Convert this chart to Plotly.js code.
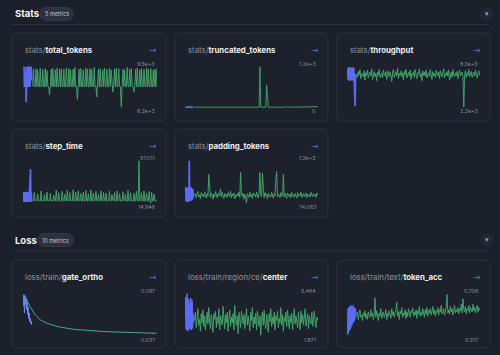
<!DOCTYPE html>
<html><head><meta charset="utf-8">
<script src="https://cdn.plot.ly/plotly-3.0.1.min.js"></script>
<style>html,body{margin:0;padding:0;background:#1b1f29;overflow:hidden}#chart{width:500px;height:355px}</style>
</head><body><div id="chart"></div>
<script>
// ---------- DATA ----------
const sectionTitles = ['Stats', 'Loss'];
const sectionBadges = ['5 metrics', '10 metrics'];
const chartPrefixes = ['stats/', 'stats/', 'stats/', 'stats/', 'stats/', 'loss/train/', 'loss/train/region/ce/', 'loss/train/text/'];
const chartNames = ['total_tokens', 'truncated_tokens', 'throughput', 'step_time', 'padding_tokens', 'gate_ortho', 'center', 'token_acc'];
const maxLabels = ['9.5e+3', '1.2e+3', '8.3e+3', '57.011', '1.3e+3', '0.097', '5.464', '0.706'];
const minLabels = ['6.2e+3', '0', '2.2e+3', '14.946', '74.063', '0.037', '1.871', '0.317'];
const yMax = [9500, 1200, 8300, 57.011, 1300, 0.097, 5.464, 0.706];
const yMin = [6200, 0, 2200, 14.946, 74.063, 0.037, 1.871, 0.317];

// first logged step and step spacing of each run
const blueStart = [0, 0, 0, 0, 0, 0, 0, 0];
const blueStep = [0.27, 0.27, 0.27, 0.27, 0.27, 0.4, 0.27, 0.27];
const greenStart = [7, 7, 7, 7, 7, 1, 7, 7];
const greenStep = [0.64, 0.64, 0.64, 0.64, 0.64, 4, 0.64, 0.64];

const totalTokensBlue = [9450, 7900, 9500, 7850, 9480, 7900, 9450, 7950, 6600, 7900, 9500, 7850, 9450, 7900, 9500, 7850, 9480, 7900, 9450, 7880, 9500, 7900, 9420, 8400];
const totalTokensGreen = [
  7900, 9300, 7880, 7850, 9350, 7900, 9250, 7860, 7900, 9400, 7850, 7880, 9300, 7900, 7850, 9350, 7880, 9200, 7900, 7860,
  7200, 7900, 9300, 7850, 9350, 7900, 7880, 9250, 7850, 9400, 7900, 7870, 9300, 7850, 9350, 7900, 7860, 9300, 7880, 7850,
  9400, 7900, 7860, 9350, 7880, 9250, 7900, 7850, 9300, 7880, 9450, 7860, 7900, 6850, 7880, 9300, 7850, 9350, 7900, 7880,
  9250, 7850, 7900, 9400, 7880, 9300, 7850, 7900, 9350, 7860, 9300, 7900, 7880, 9450, 7850, 7900, 7050, 7880, 9300, 7850,
  9350, 7900, 7860, 9250, 7880, 9400, 7850, 7900, 9300, 7880, 7860, 9350, 7900, 9250, 7850, 7450, 7900, 9300, 7860, 9400,
  7880, 7850, 9350, 7900, 7880, 6200, 7860, 9300, 7900, 9250, 7850, 7880, 9450, 7900, 7860, 9300, 7850, 9350, 7900, 7880,
  7450, 7900, 9300, 7860, 9400, 7880, 7850, 9250, 7900, 9350, 7860, 7880, 9300, 7900, 7850, 9400, 7880, 9300, 7850, 7900,
  9350, 7880, 7860, 9250, 7900, 9300, 7850, 9350];

const truncatedBlue = [0, 0, 0, 0, 0, 0, 0, 0, 0, 0, 0, 0, 0, 0, 0, 0, 0, 0, 0, 0, 0, 0, 0, 0];
const truncatedGreen = [
  0, 0, 0, 0, 0, 0, 0, 0, 0, 0, 0, 0, 0, 0, 0, 0, 0, 0, 0, 0,
  0, 0, 0, 0, 0, 0, 0, 0, 0, 0, 0, 0, 0, 0, 0, 0, 0, 0, 0, 0,
  0, 0, 0, 0, 0, 0, 0, 0, 0, 0, 0, 0, 0, 0, 0, 0, 0, 0, 0, 0,
  0, 0, 0, 0, 0, 0, 0, 0, 0, 0, 0, 0, 0, 0, 0, 0, 0, 0, 1200, 0,
  0, 0, 0, 0, 0, 0, 650, 90, 0, 0, 0, 0, 0, 0, 0, 0, 0, 0, 0, 0,
  0, 0, 0, 0, 0, 0, 0, 0, 0, 0, 0, 25, 0, 0, 0, 0, 0, 0, 0, 0,
  0, 0, 0, 0, 0, 0, 0, 0, 0, 0, 0, 0, 0, 0, 0, 0, 0, 0, 0, 0,
  0, 0, 0, 0, 0, 0, 0, 15];

const throughputBlue = [7900, 6500, 8200, 6300, 8100, 6400, 8250, 6300, 8150, 6350, 8200, 6400, 8100, 6300, 8200, 6350, 8150, 6400, 8200, 6300, 8150, 6400, 2400, 7200];
const throughputGreen = [
  7200, 6700, 7600, 7000, 7900, 6500, 7300, 7100, 6800, 7700, 6300, 7400, 7000, 7800, 6600, 7200, 7500, 6900, 8000, 6400,
  7100, 7600, 6800, 7300, 6200, 7500, 7000, 7900, 6700, 7200, 7400, 6600, 7800, 7100, 6900, 7600, 6400, 7300, 7700, 6800,
  7500, 7000, 6100, 7400, 7900, 6700, 7200, 7600, 6900, 8100, 6500, 7300, 7000, 7700, 6800, 7400, 6300, 7600, 7100, 7900,
  6600, 7200, 7500, 6900, 7800, 6400, 7300, 7000, 7600, 6700, 7900, 7100, 6500, 7400, 7200, 8000, 6800, 7300, 6200, 7700,
  7000, 7500, 6900, 7800, 6600, 7200, 7400, 6800, 7900, 7100, 6400, 7600, 7000, 7300, 6700, 7800, 7200, 6900, 7500, 6500,
  7700, 7100, 6800, 7400, 8000, 6600, 7300, 7000, 7600, 6900, 7800, 6300, 7200, 7500, 6700, 7900, 7100, 6800, 7400, 7000,
  7600, 6500, 7300, 7800, 6900, 7200, 7500, 6800, 2200, 7100, 7700, 6600, 7400, 7000, 7900, 6800, 7300, 7600, 6700, 7200,
  7500, 6900, 7800, 7100, 6600, 7400, 7700, 7000];

const stepTimeBlue = [17, 26, 16, 25.5, 16.5, 26, 15.8, 25, 16.2, 26.3, 16, 25.8, 16.5, 26, 16, 25.5, 16.2, 26, 16.8, 25, 48.6, 16, 25.5, 17];
const stepTimeGreen = [
  17.4, 17.0, 25.6, 17.3, 16.9, 17.5, 24.2, 17.1, 17.6, 16.8, 27.0, 17.2, 17.4, 17.0, 23.5, 17.3, 16.9, 26.1, 17.5, 17.1,
  17.3, 24.8, 17.0, 16.8, 17.6, 22.9, 17.2, 17.4, 28.0, 17.1, 16.9, 25.2, 17.5, 17.0, 17.3, 26.7, 17.2, 16.8, 24.0, 17.4,
  17.1, 27.8, 17.3, 16.9, 25.5, 17.6, 17.0, 17.2, 28.3, 17.4, 16.8, 26.0, 17.1, 17.5, 27.2, 17.0, 17.3, 24.6, 16.9, 17.4,
  25.9, 17.2, 17.0, 27.6, 17.5, 16.8, 24.3, 17.3, 17.1, 28.1, 17.0, 17.4, 25.1, 16.9, 17.6, 26.5, 17.2, 17.0, 23.8, 17.3,
  17.5, 27.3, 17.1, 16.9, 25.7, 17.4, 17.0, 24.9, 17.2, 16.8, 17.5, 26.9, 17.3, 17.0, 23.4, 17.6, 17.1, 25.6, 16.9, 17.3,
  27.0, 17.2, 17.4, 24.5, 17.0, 16.8, 17.3, 26.3, 17.5, 17.1, 24.0, 17.0, 16.9, 27.6, 17.4, 17.2, 25.3, 17.0, 17.6, 16.8,
  24.7, 17.3, 17.1, 26.8, 17.4, 16.9, 57.011, 17.2, 17.5, 25.2, 17.0, 17.3, 27.1, 16.8, 17.4, 24.6, 17.2, 17.0, 26.4, 17.3,
  14.946, 25.9, 17.1, 17.4, 24.1, 17.0, 17.5, 17.2];

const paddingBlue = [300, 550, 150, 500, 120, 520, 140, 480, 130, 530, 150, 1300, 140, 500, 180, 540, 140, 510, 170, 450, 200, 480, 250, 330];
const paddingGreen = [
  290, 360, 230, 340, 410, 260, 310, 200, 380, 280, 330, 250, 400, 300, 220, 350, 270, 910, 310, 240,
  370, 290, 190, 340, 260, 410, 300, 230, 360, 280, 320, 490, 250, 390, 300, 210, 350, 270, 330, 240,
  380, 300, 260, 420, 220, 340, 290, 370, 200, 310, 260, 350, 280, 400, 240, 965, 320, 270, 360, 190,
  330, 280, 74.063, 350, 300, 240, 390, 260, 320, 210, 370, 290, 330, 250, 400, 280, 220, 360, 965, 300,
  260, 940, 310, 230, 380, 290, 340, 200, 360, 270, 310, 250, 390, 300, 220, 350, 280, 770, 990, 260,
  340, 300, 230, 380, 270, 320, 910, 250, 360, 290, 210, 370, 300, 260, 340, 230, 390, 280, 310, 250,
  360, 300, 220, 380, 270, 330, 290, 400, 240, 310, 350, 260, 300, 370, 230, 340, 280, 320, 250, 390,
  300, 260, 350, 280, 320, 240, 370, 310];

const gateOrthoBlue = [0.080, 0.096, 0.070, 0.094, 0.082, 0.090, 0.075, 0.085, 0.068, 0.078, 0.062, 0.070, 0.058, 0.062, 0.055, 0.058, 0.053];
const gateOrthoGreen = [0.095, 0.079, 0.067, 0.060, 0.056, 0.053, 0.051, 0.0495, 0.048, 0.047, 0.0462, 0.0455, 0.0449, 0.0444, 0.044, 0.0436,
  0.0432, 0.0429, 0.0426, 0.0423, 0.042, 0.0418, 0.0416, 0.0414, 0.0412, 0.041];

const centerBlue = [3.5, 5.2, 2.6, 4.8, 2.4, 5.464, 2.8, 4.5, 2.3, 5.0, 2.6, 4.2, 2.5, 4.6, 2.9, 5.1, 2.4, 4.4, 2.7, 4.9, 2.5, 3.8, 3.0, 3.6];
const centerGreen = [
  3.2, 3.9, 2.6, 3.5, 4.2, 2.8, 3.3, 2.3, 3.8, 3.0, 4.1, 2.7, 3.6, 2.4, 3.4, 3.9, 2.9, 4.3, 3.1, 2.5,
  3.7, 3.0, 2.2, 3.8, 3.3, 4.0, 2.6, 3.5, 2.9, 4.2, 2.4, 3.6, 3.1, 2.8, 4.4, 3.2, 2.5, 3.7, 3.0, 3.9,
  2.3, 3.4, 4.1, 2.7, 3.5, 3.0, 3.8, 2.4, 4.48, 3.2, 2.8, 3.6, 2.1, 3.9, 3.3, 2.6, 4.0, 3.1, 2.9, 3.7,
  2.5, 3.4, 4.2, 2.8, 3.6, 3.0, 2.3, 3.9, 3.2, 4.3, 2.6, 3.5, 2.9, 3.8, 2.4, 4.0, 3.1, 2.7, 3.6, 1.95,
  3.4, 3.9, 2.8, 4.1, 3.0, 2.5, 3.7, 3.3, 2.2, 3.8, 3.1, 4.2, 2.7, 3.5, 2.9, 3.9, 2.4, 3.6, 3.2, 4.0,
  2.6, 3.4, 3.0, 4.3, 2.8, 3.7, 2.3, 3.5, 3.1, 3.9, 2.7, 4.1, 3.3, 2.5, 3.6, 3.0, 3.8, 2.4, 3.4, 4.2,
  2.9, 3.6, 3.1, 2.6, 3.9, 3.3, 2.4, 4.0, 3.0, 3.7, 2.8, 3.5, 4.2, 2.7, 3.2, 3.8, 2.5, 3.6, 3.1, 2.9,
  3.9, 2.7, 3.4, 4.0, 3.0, 2.6, 3.5, 3.2];

const tokenAccBlue = [0.45, 0.33, 0.57, 0.35, 0.58, 0.37, 0.59, 0.38, 0.58, 0.40, 0.60, 0.41, 0.59, 0.43, 0.58, 0.44, 0.60, 0.45, 0.59, 0.46, 0.58, 0.47, 0.57, 0.52];
const tokenAccGreen = [
  0.50, 0.54, 0.47, 0.52, 0.56, 0.49, 0.51, 0.46, 0.53, 0.50, 0.55, 0.48, 0.52, 0.47, 0.54, 0.51, 0.49, 0.56, 0.50, 0.53,
  0.47, 0.52, 0.67, 0.49, 0.55, 0.51, 0.46, 0.53, 0.50, 0.57, 0.48, 0.52, 0.54, 0.49, 0.51, 0.56, 0.47, 0.53, 0.50, 0.55,
  0.52, 0.48, 0.57, 0.51, 0.54, 0.49, 0.53, 0.56, 0.63, 0.50, 0.54, 0.47, 0.55, 0.52, 0.58, 0.49, 0.53, 0.51, 0.56, 0.48,
  0.54, 0.50, 0.57, 0.52, 0.49, 0.55, 0.53, 0.58, 0.50, 0.54, 0.51, 0.56, 0.48, 0.55, 0.52, 0.59, 0.50, 0.54, 0.51, 0.57,
  0.53, 0.49, 0.56, 0.52, 0.58, 0.50, 0.55, 0.53, 0.57, 0.51, 0.54, 0.59, 0.52, 0.56, 0.50, 0.55, 0.53, 0.58, 0.51, 0.56,
  0.54, 0.60, 0.52, 0.55, 0.57, 0.51, 0.54, 0.58, 0.70, 0.53, 0.56, 0.52, 0.59, 0.54, 0.57, 0.51, 0.55, 0.60, 0.53, 0.56,
  0.54, 0.58, 0.52, 0.57, 0.55, 0.61, 0.53, 0.66, 0.56, 0.54, 0.59, 0.52, 0.57, 0.55, 0.60, 0.53, 0.58, 0.56, 0.54, 0.61,
  0.55, 0.58, 0.53, 0.57, 0.60, 0.54, 0.58, 0.56];

const blueSeries = [totalTokensBlue, truncatedBlue, throughputBlue, stepTimeBlue, paddingBlue, gateOrthoBlue, centerBlue, tokenAccBlue];
const greenSeries = [totalTokensGreen, truncatedGreen, throughputGreen, stepTimeGreen, paddingGreen, gateOrthoGreen, centerGreen, tokenAccGreen];

// ---------- LAYOUT (pixels) ----------
const W = 500, H = 355;
const X = px => px / W, Y = py => 1 - py / H;
const cardCols = [[12, 166], [175, 328], [337, 490]];
const cardRows = [[33, 121], [129, 217], [260, 348]];
const plotCols = [[23, 157], [185, 318], [347, 480]];
const plotRows = [[66, 108], [160, 204], [293, 337]];
const cardPos = [[0, 0], [0, 1], [0, 2], [1, 0], [1, 1], [2, 0], [2, 1], [2, 2]];

const BG = '#1b1f29', CARD = '#1d212c', BORDER = '#2b303c';
const BLUE = '#5b6cf2', GREEN = '#45a96b', GREEN2 = '#58b596', BLUE2 = '#6f8ef0';

function rrPath(x0, y0, x1, y1, r) {
  const p = (x, y) => X(x) + ',' + Y(y);
  return 'M' + p(x0 + r, y0) + ' L' + p(x1 - r, y0) + ' Q' + p(x1, y0) + ' ' + p(x1, y0 + r) +
    ' L' + p(x1, y1 - r) + ' Q' + p(x1, y1) + ' ' + p(x1 - r, y1) +
    ' L' + p(x0 + r, y1) + ' Q' + p(x0, y1) + ' ' + p(x0, y1 - r) +
    ' L' + p(x0, y0 + r) + ' Q' + p(x0, y0) + ' ' + p(x0 + r, y0) + ' Z';
}

const FONT = 'Inter, "Noto Sans", sans-serif';
const shapes = [], annotations = [], traces = [];
const layout = {
  width: W, height: H, margin: {l: 0, r: 0, t: 0, b: 0},
  paper_bgcolor: BG, plot_bgcolor: 'rgba(0,0,0,0)', showlegend: false, hovermode: false,
  font: {family: FONT}
};

// section headers
const secY = [14, 240], badgeX = [[40, 73], [38, 73]], divY = [24.5, 251];
sectionTitles.forEach((t, s) => {
  annotations.push({xref: 'paper', yref: 'paper', x: X(12.5), y: Y(secY[s]), xanchor: 'left', yanchor: 'middle',
    text: '<b>' + t + '</b>', showarrow: false, font: {size: 9.5, color: '#f1f3f6', family: FONT}});
  const [bx0, bx1] = badgeX[s];
  shapes.push({type: 'path', xref: 'paper', yref: 'paper', path: rrPath(bx0, secY[s] - 6.5, bx1, secY[s] + 6.5, 6.5),
    fillcolor: '#2c313e', line: {color: '#363c4a', width: 0.8}, layer: 'below'});
  annotations.push({xref: 'paper', yref: 'paper', x: X((bx0 + bx1) / 2), y: Y(secY[s]), xanchor: 'center', yanchor: 'middle',
    text: sectionBadges[s], showarrow: false, font: {size: 5.5, color: '#c5c9d2', family: FONT}});
  shapes.push({type: 'line', xref: 'paper', yref: 'paper', x0: X(12), x1: X(490), y0: Y(divY[s]), y1: Y(divY[s]),
    line: {color: '#2c313d', width: 1}});
  shapes.push({type: 'circle', xref: 'paper', yref: 'paper', x0: X(480), x1: X(494), y0: Y(secY[s] - 7), y1: Y(secY[s] + 7),
    fillcolor: '#212632', line: {width: 0}, layer: 'below'});
  annotations.push({xref: 'paper', yref: 'paper', x: X(487), y: Y(secY[s]), xanchor: 'center', yanchor: 'middle',
    text: '▾', showarrow: false, font: {size: 7, color: '#9aa0ab', family: 'DejaVu Sans'}});
});

chartNames.forEach((name, k) => {
  const [r, c] = cardPos[k];
  const [cx0, cx1] = cardCols[c], [cy0, cy1] = cardRows[r];
  const [px0, px1] = plotCols[c], [py0, py1] = plotRows[r];
  shapes.push({type: 'path', xref: 'paper', yref: 'paper', path: rrPath(cx0, cy0, cx1, cy1, 5),
    fillcolor: CARD, line: {color: BORDER, width: 1}, layer: 'below'});
  annotations.push({xref: 'paper', yref: 'paper', x: X(cx0 + 10.5), y: Y(cy0 + 17), xanchor: 'left', yanchor: 'middle', showarrow: false,
    text: '<span style="color:#8d93a0">' + chartPrefixes[k] + '</span><b>' + name + '</b>',
    font: {size: 7.8, color: '#eceef2', family: FONT}});
  annotations.push({xref: 'paper', yref: 'paper', x: X(cx1 - 13), y: Y(cy0 + 16.5), xanchor: 'center', yanchor: 'middle', showarrow: false,
    text: '→', font: {size: 9, color: '#4d6fdc', family: 'DejaVu Sans'}});
  annotations.push({xref: 'paper', yref: 'paper', x: X(px1), y: Y(py0 - 2), xanchor: 'right', yanchor: 'middle', showarrow: false,
    text: maxLabels[k], font: {size: 5.3, color: '#868c98', family: FONT}});
  annotations.push({xref: 'paper', yref: 'paper', x: X(px1), y: Y(py1 + 3), xanchor: 'right', yanchor: 'middle', showarrow: false,
    text: minLabels[k], font: {size: 5.3, color: '#868c98', family: FONT}});

  const n = k + 1, sfx = n > 1 ? String(n) : '';
  const pad = (yMax[k] - yMin[k]) * 0.02;
  layout['xaxis' + sfx] = {domain: [X(px0), X(px1)], range: [-0.3, 101.3], visible: false, fixedrange: true, anchor: 'y' + sfx};
  layout['yaxis' + sfx] = {domain: [Y(py1), Y(py0)], range: [yMin[k] - pad, yMax[k] + pad], visible: false, fixedrange: true, anchor: 'x' + sfx};
  const isGate = name === 'gate_ortho';
  traces.push({type: 'scatter', mode: 'lines', xaxis: 'x' + sfx, yaxis: 'y' + sfx,
    x: greenSeries[k].map((_, i) => greenStart[k] + i * greenStep[k]), y: greenSeries[k],
    line: {color: isGate ? GREEN2 : GREEN, width: 0.9}, cliponaxis: false});
  traces.push({type: 'scatter', mode: 'lines', xaxis: 'x' + sfx, yaxis: 'y' + sfx,
    x: blueSeries[k].map((_, i) => blueStart[k] + i * blueStep[k]), y: blueSeries[k],
    line: {color: isGate ? BLUE2 : BLUE, width: isGate ? 1 : 1.7}, cliponaxis: false});
});

layout.shapes = shapes;
layout.annotations = annotations;
Plotly.newPlot('chart', traces, layout, {staticPlot: true, displayModeBar: false});
</script>
</body></html>
